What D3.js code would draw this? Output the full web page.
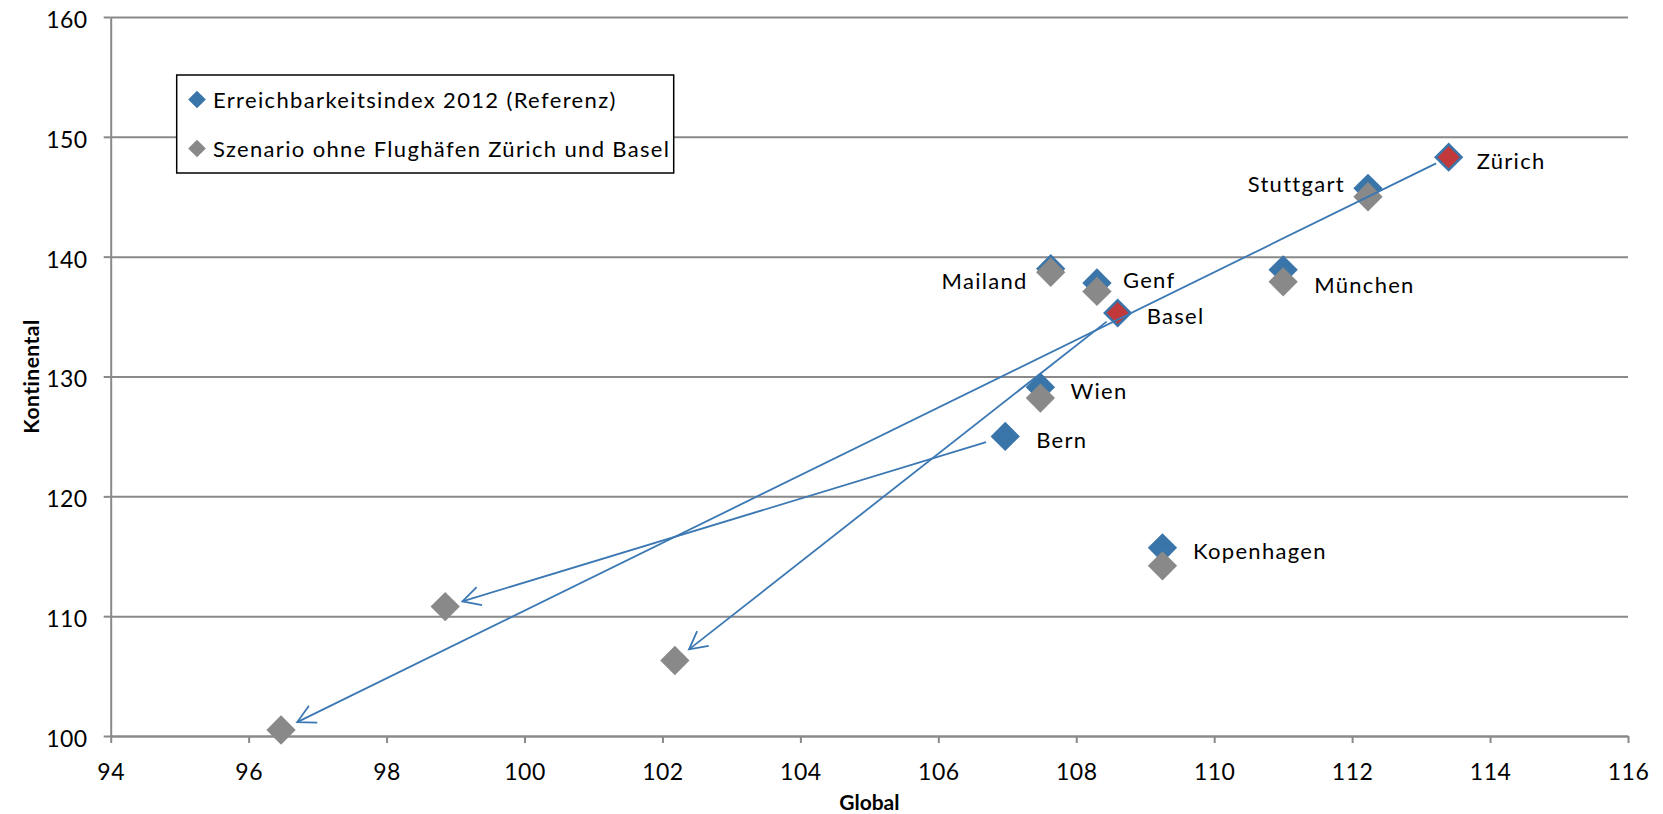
<!DOCTYPE html>
<html><head><meta charset="utf-8">
<script src="https://cdn.jsdelivr.net/npm/d3@7"></script>
<style>
html,body{margin:0;padding:0;background:#fff;}
svg{display:block;font-family:Lato,"Open Sans",sans-serif;}
</style></head>
<body>
<svg id="chart" width="1663" height="814"></svg>
<script>
// ---- data ----
const cities = ["Zürich","Basel","Genf","Bern","Wien","Mailand","Stuttgart","München","Kopenhagen"];
const refGlobal  = [113.4, 108.6, 108.3, 106.97, 107.48, 107.63, 112.23, 111.0, 109.25];
const refKont    = [148.3, 135.3, 137.8, 125.0, 129.1, 139.0, 145.7, 138.9, 115.7];
const scenGlobal = [96.47, 102.18, 108.3, 98.85, 107.48, 107.63, 112.23, 111.0, 109.25];
const scenKont   = [100.5, 106.3, 137.1, 110.8, 128.2, 138.7, 145.0, 137.9, 114.2];
const highlighted = ["Zürich","Basel"];
const arrowCities = ["Zürich","Basel","Bern"];
const xTicks = [94,96,98,100,102,104,106,108,110,112,114,116];
const yTicks = [100,110,120,130,140,150,160];
const seriesNames = ["Erreichbarkeitsindex 2012 (Referenz)","Szenario ohne Flughäfen Zürich und Basel"];
const xTitle = "Global", yTitle = "Kontinental";

// ---- label placement (pixels, relative to reference point) ----
const labelOffsets = {
  "Zürich":[28,11.5,"start"], "Basel":[29,11.5,"start"], "Genf":[26,5,"start"],
  "Bern":[31,12,"start"], "Wien":[30,12,"start"], "Mailand":[-23,20,"end"],
  "Stuttgart":[-23,3.5,"end"], "München":[31,23,"start"], "Kopenhagen":[30.5,11.5,"start"]
};

const W = 1663, H = 814;
const m = {left:110.7, top:17, right:35, bottom:78};
const svg = d3.select("#chart");
const x = d3.scaleLinear().domain([94,116]).range([m.left, W-m.right]);
const y = d3.scaleLinear().domain([100,160]).range([H-m.bottom, m.top]);

const gridCol = "#898989", blue = "#3a75aa", gray = "#898989", red = "#c1393a", lineBlue = "#3b78b3";

// gridlines
svg.append("g").attr("transform",`translate(${m.left},0)`)
  .call(d3.axisLeft(y).tickValues(yTicks).tickSize(-(W-m.left-m.right)).tickFormat(""))
  .call(g=>g.select(".domain").remove())
  .call(g=>g.selectAll("line").attr("stroke",gridCol).attr("stroke-width",2));

// y axis
svg.append("g").attr("transform",`translate(${m.left},0)`)
  .call(d3.axisLeft(y).tickValues(yTicks).tickSize(7).tickPadding(16).tickSizeOuter(0))
  .call(g=>g.select(".domain").attr("stroke",gridCol).attr("stroke-width",2))
  .call(g=>g.selectAll("line").attr("stroke",gridCol).attr("stroke-width",2))
  .call(g=>g.selectAll("text").attr("font-family","Lato").attr("font-size",23).attr("letter-spacing","0.5").attr("fill","#000").attr("dy","0.45em"));

// x axis
svg.append("g").attr("transform",`translate(0,${H-m.bottom})`)
  .call(d3.axisBottom(x).tickValues(xTicks).tickSize(7).tickPadding(21).tickSizeOuter(0))
  .call(g=>g.select(".domain").attr("stroke",gridCol).attr("stroke-width",2))
  .call(g=>g.selectAll("line").attr("stroke",gridCol).attr("stroke-width",2))
  .call(g=>g.selectAll("text").attr("font-family","Lato").attr("font-size",23).attr("letter-spacing","0.5").attr("fill","#000"));

// axis titles
svg.append("text").attr("x",(m.left+W-m.right)/2).attr("y",810).attr("text-anchor","middle")
  .attr("font-family","Lato").attr("font-weight","bold").attr("font-size",21).text(xTitle);
svg.append("text").attr("transform",`translate(39,${(m.top+H-m.bottom)/2}) rotate(-90)`).attr("text-anchor","middle")
  .attr("font-family","Lato").attr("font-weight","bold").attr("font-size",21).attr("letter-spacing","0.5").text(yTitle);

const pts = cities.map((c,i)=>({c, rx:refGlobal[i], ry:refKont[i], sx:scenGlobal[i], sy:scenKont[i]}));
const diamond = d3.symbol().type(d3.symbolSquare).size(430);

// reference markers (blue)
svg.append("g").selectAll("path").data(pts.filter(d=>!highlighted.includes(d.c))).join("path")
  .attr("d",diamond).attr("transform",d=>`translate(${x(d.rx)},${y(d.ry)}) rotate(45)`)
  .attr("fill",blue);
// scenario markers (gray)
svg.append("g").selectAll("path").data(pts).join("path")
  .attr("d",diamond).attr("transform",d=>`translate(${x(d.sx)},${y(d.sy)}) rotate(45)`)
  .attr("fill",gray);
// highlighted reference markers (red)
svg.append("g").selectAll("path").data(pts.filter(d=>highlighted.includes(d.c))).join("path")
  .attr("d",d3.symbol().type(d3.symbolSquare).size(330)).attr("transform",d=>`translate(${x(d.rx)},${y(d.ry)}) rotate(45)`)
  .attr("fill",red).attr("stroke",blue).attr("stroke-width",2.5);

// arrows
const defs = svg.append("defs");
defs.append("marker").attr("id","arr").attr("markerUnits","userSpaceOnUse")
  .attr("viewBox","-22 -12 26 24").attr("refX",0).attr("refY",0)
  .attr("markerWidth",26).attr("markerHeight",24).attr("orient","auto")
  .append("path").attr("d","M-17.7,-9.4L0,0L-17.7,9.4").attr("fill","none")
  .attr("stroke",lineBlue).attr("stroke-width",1.8);

svg.append("g").selectAll("line").data(pts.filter(d=>arrowCities.includes(d.c))).join("line")
  .each(function(d){
    const x0=x(d.rx), y0=y(d.ry), x1=x(d.sx), y1=y(d.sy);
    const L=Math.hypot(x1-x0,y1-y0), ux=(x1-x0)/L, uy=(y1-y0)/L;
    const s = d.c==="Bern"?20:14, e=18;
    d3.select(this).attr("x1",x0+ux*s).attr("y1",y0+uy*s).attr("x2",x1-ux*e).attr("y2",y1-uy*e);
  })
  .attr("stroke",lineBlue).attr("stroke-width",1.8).attr("marker-end","url(#arr)");

// labels
svg.append("g").selectAll("text").data(pts).join("text")
  .attr("x",d=>x(d.rx)+labelOffsets[d.c][0]).attr("y",d=>y(d.ry)+labelOffsets[d.c][1])
  .attr("text-anchor",d=>labelOffsets[d.c][2])
  .attr("font-family","Lato").attr("font-size",22).attr("letter-spacing","1.3").attr("fill","#000")
  .text(d=>d.c);

// legend
const lg = svg.append("g");
lg.append("rect").attr("x",176.7).attr("y",75).attr("width",497).attr("height",98)
  .attr("fill","#fff").attr("stroke","#000").attr("stroke-width",1.5);
const small = d3.symbol().type(d3.symbolSquare).size(156);
[blue,gray].forEach((col,i)=>{
  const cy = 99.5 + i*49;
  lg.append("path").attr("d",small).attr("transform",`translate(197,${cy}) rotate(45)`).attr("fill",col);
  lg.append("text").attr("x",213).attr("y",cy+8).attr("font-family","Lato").attr("font-size",22)
    .attr("letter-spacing","1.35").text(seriesNames[i]);
});
</script>
</body></html>
